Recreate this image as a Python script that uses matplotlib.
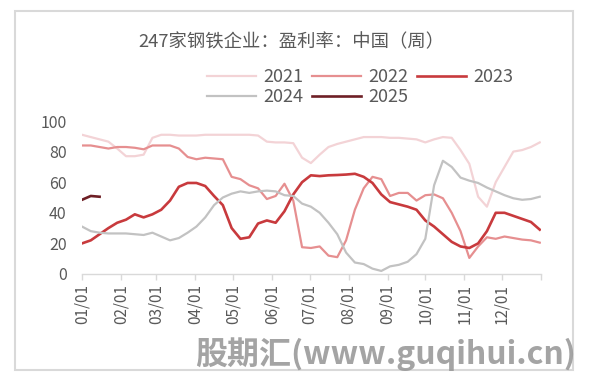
import matplotlib
matplotlib.use("Agg")
import matplotlib.pyplot as plt
from matplotlib.patches import Rectangle

plt.rcParams["font.family"] = ["Noto Sans CJK SC", "DejaVu Sans"]

TITLE = "247家钢铁企业：盈利率：中国（周）"
WATERMARK = "股期汇(www.guqihui.cn)"

MONTH_DAYS = [0, 31, 59, 90, 120, 151, 181, 212, 243, 273, 304, 334]
MONTH_LABELS = ["01/01", "02/01", "03/01", "04/01", "05/01", "06/01",
                "07/01", "08/01", "09/01", "10/01", "11/01", "12/01"]

# weekly readings, week n sits at day 7*n
Y2021 = [91, 89.5, 88, 86.5, 82, 77, 77, 78, 89, 91, 91, 90.5, 90.5, 90.5,
         91, 91, 91, 91, 91, 91, 90.5, 86.5, 86, 86, 85.5, 76, 72.5, 78,
         83, 85, 86.5, 88, 89.5, 89.5, 89.5, 89, 89, 88.5, 88, 86, 88, 89.5,
         89, 81, 72, 50.5, 44, 60, 70, 80, 81, 83, 86]
Y2022 = [84, 84, 83, 82, 83, 83, 82.5, 81.5, 84, 84, 84, 82, 76.5, 75, 76,
         75.5, 75, 63.5, 62, 58, 56, 49, 51, 59, 48, 17.5, 17, 18, 12, 11,
         22, 42, 56, 63.5, 62, 51, 53, 53, 48, 51.5, 52, 49.5, 40, 28, 10.5,
         18, 24, 23, 24.5, 23.5, 22.5, 22, 20.5]
Y2023 = [20, 22, 26, 30, 33.5, 35.5, 39, 37, 39, 42, 48, 57, 59.5, 59.5,
         57.5, 51, 45, 30, 23, 24, 33, 35, 33.5, 41, 52, 60, 64.5, 64, 64.5,
         64.7, 65, 65.5, 63.5, 59.5, 52, 47, 45.5, 44, 42, 35, 31, 26, 21,
         18, 17, 20, 28, 40, 40, 38, 36, 34, 29]
Y2024 = [31, 28, 27, 26.5, 26.5, 26.5, 26, 25.5, 27, 24.5, 22, 23.5, 27, 31,
         37, 45, 50, 52.5, 54, 53, 54, 54.5, 54, 51.5, 51, 46, 44, 40, 33.5,
         26, 14, 7.5, 6.5, 3.5, 2, 5, 6, 8, 13, 23, 58, 74, 70, 63, 61, 59.5,
         56.5, 54, 51.5, 49.5, 48.5, 49, 50.5]
Y2025 = [48.5, 51, 50.5]

SERIES = [("2021", Y2021, "#F3D3D6", 1.6),
          ("2022", Y2022, "#E68F90", 1.6),
          ("2023", Y2023, "#C83A3D", 1.9),
          ("2024", Y2024, "#C2C2C2", 1.6),
          ("2025", Y2025, "#6E1F25", 1.9)]

TEXT = "#595959"
GRID = "#D9D9D9"

W, H = 597, 389
fig = plt.figure(figsize=(W / 100, H / 100), dpi=100)
ax = fig.add_axes([82 / W, 1 - 274 / H, (541 - 82) / W, (274 - 121) / H])

lines = {}
for name, vals, color, lw in SERIES:
    days = [7 * i for i in range(len(vals))]
    lines[name], = ax.plot(days, vals, color=color, lw=lw, label=name,
                           solid_joinstyle="round")

ax.set_xlim(0, 365)
ax.set_ylim(0, 100)
ax.set_xticks(MONTH_DAYS + [365])
ax.set_xticklabels(MONTH_LABELS + [""], rotation=90, color=TEXT, fontsize=11)
ax.set_yticks([0, 20, 40, 60, 80, 100])
ax.tick_params(axis="y", length=0, pad=11, labelcolor=TEXT, labelsize=11.5)
ax.tick_params(axis="x", length=4, width=1, color=GRID, pad=3)
for side in ["top", "right", "left"]:
    ax.spines[side].set_visible(False)
ax.spines["bottom"].set_color(GRID)
ax.spines["bottom"].set_linewidth(1)

fig.text(291 / W, 1 - 42 / H, TITLE, ha="center", va="center",
         fontsize=13.2, color=TEXT)

# legend fills column-wise, so order it to read 2021 2022 2023 / 2024 2025
order = ["2021", "2024", "2022", "2025", "2023"]
fig.legend([lines[k] for k in order], order, ncol=3, loc="upper left",
           bbox_to_anchor=(198 / W, 1 - 59 / H), frameon=False,
           fontsize=13, handlelength=2.7, handletextpad=0.4,
           columnspacing=0.5, labelspacing=0.1, borderpad=0,
           labelcolor=TEXT)

fig.text(576 / W, 1 - 354 / H, WATERMARK, ha="right", va="center",
         fontsize=23, fontweight="bold", color="#9A9A9A", alpha=0.9)

fig.patches.append(Rectangle((15 / W, 1 - 370 / H), 558 / W, 359 / H,
                             transform=fig.transFigure, fill=False,
                             edgecolor=GRID, lw=1.5))

fig.savefig("out.png", dpi=100)
